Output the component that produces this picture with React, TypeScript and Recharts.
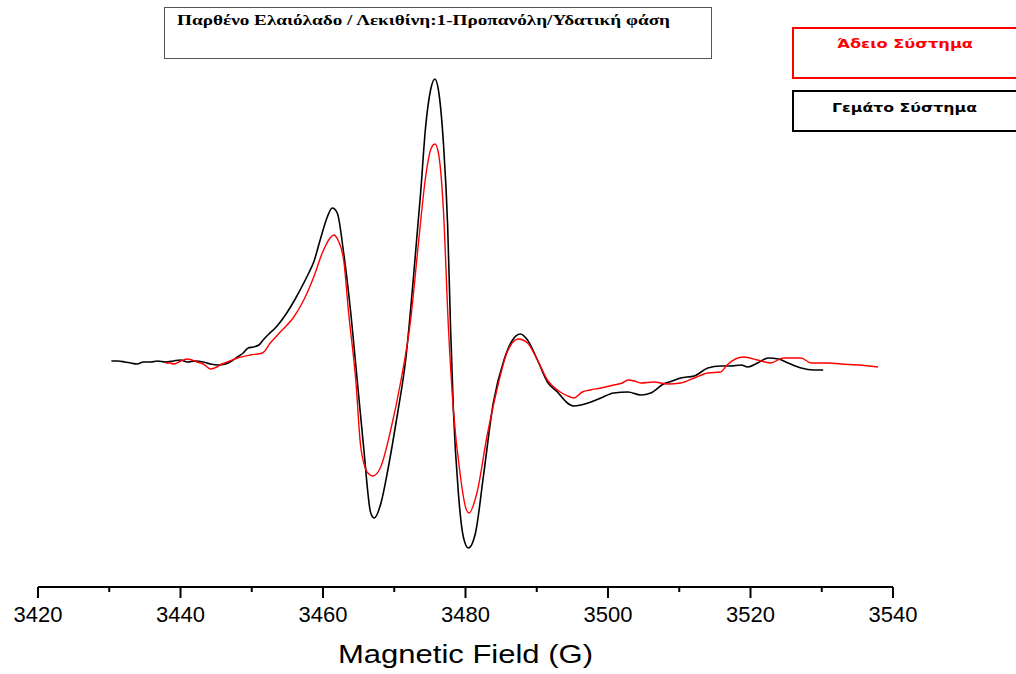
import React from "react";
import { LineChart, Line, XAxis, YAxis } from "recharts";

// Magnetic field (G) and signal intensity (arbitrary units)
const fullSystem: [number, number][] = [
  [3430.3, 1], [3431.2, 1], [3432.2, 0], [3433.0, -1], [3433.9, -2], [3434.8, 0], [3435.8, 0],
  [3436.8, 1], [3437.9, 0], [3439.0, 1], [3440.0, 2], [3441.0, 0], [3442.1, 1], [3443.2, 0],
  [3444.2, -2], [3445.3, -3], [3446.3, -2], [3447.2, 1], [3448.0, 5], [3448.8, 9], [3449.5, 14],
  [3450.2, 15], [3451.0, 17], [3451.6, 22], [3452.4, 28], [3453.3, 34], [3455.0, 50], [3456.1, 63],
  [3457.3, 79], [3458.0, 89], [3458.7, 100], [3459.6, 122], [3460.6, 145], [3461.3, 154],
  [3462.0, 149], [3462.9, 109], [3463.9, 49], [3464.8, -18], [3465.7, -85], [3466.7, -151],
  [3467.2, -156], [3468.1, -142], [3469.1, -108], [3469.8, -80], [3470.5, -50], [3471.6, 2],
  [3472.7, 85], [3473.7, 169], [3474.4, 235], [3475.1, 272], [3475.7, 283], [3476.2, 272],
  [3476.9, 219], [3477.5, 135], [3477.9, 35], [3478.3, -48], [3479.0, -131], [3479.7, -175],
  [3480.4, -186], [3481.4, -171], [3482.5, -115], [3483.9, -41], [3485.4, 2], [3486.6, 22],
  [3487.7, 28], [3488.7, 22], [3490.1, 2], [3491.5, -20], [3492.9, -30], [3494.3, -41],
  [3495.2, -44], [3496.2, -43], [3497.2, -41], [3499.0, -36], [3500.8, -31], [3502.8, -30],
  [3504.6, -33], [3506.0, -31], [3507.8, -22], [3509.0, -19], [3510.2, -16], [3512.1, -14],
  [3514.0, -6], [3515.8, -4], [3517.2, -4], [3518.7, -3], [3519.6, -5], [3521.0, -1],
  [3522.5, 4], [3523.9, 3], [3525.3, -1], [3527.1, -6], [3528.9, -8], [3530.2, -8],
];

const emptySystem: [number, number][] = [
  [3437.9, -1], [3438.5, -1], [3439.0, -2], [3439.8, 0], [3440.9, 3], [3441.6, 2], [3442.3, 0],
  [3443.2, -2], [3444.2, -7], [3445.1, -5], [3445.8, -2], [3446.6, 0], [3448.0, 4], [3449.8, 7],
  [3451.5, 9], [3452.6, 19], [3454.0, 30], [3455.9, 45], [3457.3, 62], [3458.7, 85],
  [3459.9, 109], [3461.0, 124], [3461.5, 127], [3462.1, 122], [3462.9, 102], [3463.6, 49],
  [3464.6, -18], [3465.3, -85], [3466.3, -111], [3467.0, -114], [3468.1, -105], [3469.5, -68],
  [3470.9, -20], [3472.3, 42], [3473.4, 119], [3474.4, 185], [3475.1, 212], [3475.7, 218],
  [3476.2, 209], [3476.9, 152], [3477.6, 35], [3478.3, -48], [3479.3, -115], [3480.0, -145],
  [3480.5, -151], [3481.6, -131], [3483.0, -75], [3484.4, -28], [3485.8, 9], [3487.4, 23],
  [3488.7, 19], [3490.1, 2], [3491.5, -18], [3493.3, -30], [3494.7, -35], [3495.2, -36],
  [3496.4, -30], [3497.5, -28], [3499.0, -26], [3500.8, -23], [3502.0, -21], [3502.8, -18],
  [3503.7, -19], [3504.6, -21], [3506.4, -20], [3508.4, -22], [3510.2, -21], [3512.1, -16],
  [3514.0, -11], [3515.8, -10], [3516.7, -3], [3519.0, 5], [3521.0, 2], [3522.8, -1],
  [3524.6, 4], [3527.1, 4], [3528.5, -1], [3530.9, -1], [3532.7, -2], [3535.1, -3], [3537.9, -5],
];

const xTicks = [3420, 3430, 3440, 3450, 3460, 3470, 3480, 3490, 3500, 3510, 3520, 3530, 3540];
const xDomain: [number, number] = [3420, 3540];
const yDomain: [number, number] = [-225, 352];

const titleText = "Παρθένο Ελαιόλαδο / Λεκιθίνη:1-Προπανόλη/Υδατική φάση";
const emptyLabel = "Άδειο Σύστημα";
const fullLabel = "Γεμάτο Σύστημα";
const axisTitle = "Magnetic Field (G)";

const toRows = (arr: [number, number][]) => arr.map(([g, v]) => ({ g, v }));
const fullRows = toRows(fullSystem);
const emptyRows = toRows(emptySystem);

const Tick = (props: any) => {
  const { x, y, payload } = props;
  const major = payload.value % 20 === 0;
  return (
    <g>
      <line x1={x} x2={x} y1={y} y2={y + (major ? 11 : 5)} stroke="#000" strokeWidth={2} />
      {major && (
        <text
          x={x}
          y={y + 35}
          textAnchor="middle"
          fontFamily="'Liberation Sans', Arial, sans-serif"
          fontSize={22}
          fill="#000"
        >
          {payload.value}
        </text>
      )}
    </g>
  );
};

export default function App() {
  return (
    <div style={{ position: "absolute", left: 0, top: 0, width: 1016, height: 674, background: "#fff" }}>
      <LineChart
        width={1016}
        height={674}
        margin={{ top: 10, right: 123, left: 38, bottom: 0 }}
      >
        <XAxis
          type="number"
          dataKey="g"
          domain={xDomain}
          ticks={xTicks}
          interval={0}
          allowDataOverflow
          height={87}
          tickSize={0}
          tickMargin={0}
          tickLine={false}
          axisLine={{ stroke: "#000", strokeWidth: 2 }}
          tick={<Tick />}
        />
        <YAxis type="number" domain={yDomain} hide allowDataOverflow />
        <Line
          data={fullRows}
          dataKey="v"
          type="monotone"
          stroke="#000"
          strokeWidth={1.6}
          dot={false}
          isAnimationActive={false}
        />
        <Line
          data={emptyRows}
          dataKey="v"
          type="monotone"
          stroke="#ff0000"
          strokeWidth={1.4}
          dot={false}
          isAnimationActive={false}
        />
      </LineChart>
      <svg
        width={1016}
        height={674}
        style={{ position: "absolute", left: 0, top: 0, pointerEvents: "none" }}
      >
        <rect x={164.5} y={7.5} width={547} height={51} fill="#fff" stroke="#555" strokeWidth={1} />
        <text
          x={177}
          y={25}
          fontFamily="'Liberation Serif', 'Times New Roman', serif"
          fontWeight="bold"
          fontSize={15}
          textLength={493}
          lengthAdjust="spacingAndGlyphs"
          fill="#000"
        >
          {titleText}
        </text>
        <rect x={793} y={28} width={240} height={50} fill="#fff" stroke="#ff0000" strokeWidth={2} />
        <text
          x={837}
          y={48}
          fontFamily="'DejaVu Sans', Verdana, sans-serif"
          fontWeight="bold"
          fontSize={13}
          textLength={136}
          lengthAdjust="spacingAndGlyphs"
          fill="#ff0000"
        >
          {emptyLabel}
        </text>
        <rect x={793} y={91} width={240} height={40} fill="#fff" stroke="#000" strokeWidth={2} />
        <text
          x={832}
          y={112}
          fontFamily="'DejaVu Sans', Verdana, sans-serif"
          fontWeight="bold"
          fontSize={13}
          textLength={145}
          lengthAdjust="spacingAndGlyphs"
          fill="#000"
        >
          {fullLabel}
        </text>
        <text
          x={338}
          y={663}
          fontFamily="'Liberation Sans', Arial, sans-serif"
          fontSize={26}
          textLength={255}
          lengthAdjust="spacingAndGlyphs"
          fill="#000"
        >
          {axisTitle}
        </text>
      </svg>
    </div>
  );
}
